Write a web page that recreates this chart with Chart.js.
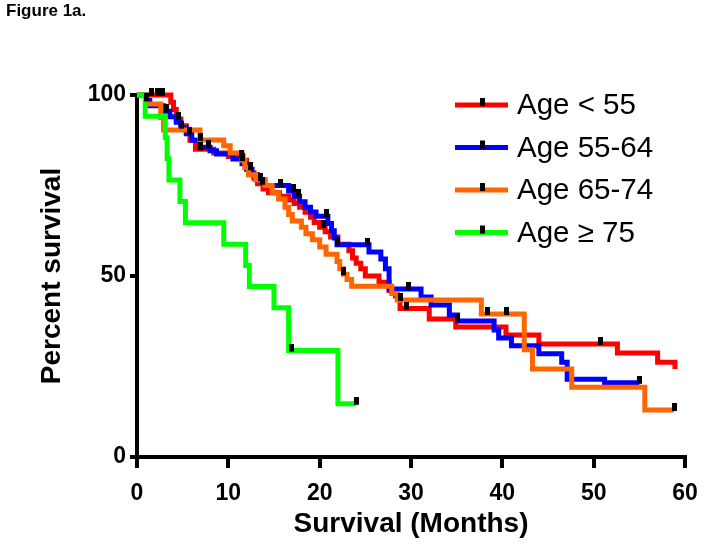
<!DOCTYPE html>
<html>
<head>
<meta charset="utf-8">
<script src="https://cdn.jsdelivr.net/npm/chart.js@4.4.1/dist/chart.umd.min.js"></script>
<style>
    html, body { margin: 0; padding: 0; background: #fff; }
    #wrap { position: relative; width: 704px; height: 550px; }
    #fig { position: absolute; left: 6px; top: 1px; font: bold 17px "Liberation Sans", Arial, sans-serif; color: #000; }
</style>
</head>
<body>
<div id="wrap">
    <canvas id="survivalChart" width="704" height="550"></canvas>
    <div id="fig">Figure 1a.</div>
</div>
<script>
// Kaplan-Meier steps: month of each drop and survival (%) after it
var groupNames = ['Age < 55', 'Age 55-64', 'Age 65-74', 'Age \u2265 75'];
var groupColors = ['#ff0000', '#0000ff', '#ff6600', '#00ff00'];

var redTime = [0, 3.7, 4.0, 4.3, 4.8, 5.4, 5.8, 6.4, 8.4, 10.0, 11.6, 12.0, 12.4, 12.8, 13.2, 13.8, 14.4, 15.6, 16.6, 17.2,
    17.8, 18.4, 19.0, 19.4, 20.0, 20.6, 21.2, 22.0, 23.2, 23.6, 24.0, 24.5, 25.0, 26.5, 27.6, 28.3, 28.8, 32.0, 34.9, 40.4,
    44.0, 52.6, 57.0, 58.9];
var redSurv = [100, 98, 96, 93.4, 91.5, 89.5, 87.5, 85, 84, 83, 82, 80, 78.5, 77, 75.5, 74, 73, 72, 71, 70,
    69, 67.6, 66.2, 64.8, 63.5, 62.2, 60.8, 58.8, 57, 55, 53.5, 52, 50, 48.3, 46, 44.5, 41, 38.1, 35.9, 33.7,
    31.2, 28.7, 26.2, 24.3];
var redCensor = [1.6, 2.2, 2.8, 4.5, 7.0, 11.4, 13.7, 20.4, 29.5, 50.7];

var blueTime = [0, 1.0, 1.4, 2.9, 3.6, 4.3, 4.8, 5.4, 6.0, 6.9, 8.0, 8.7, 10.5, 11.5, 12.0, 12.6, 13.2, 14.0, 16.6, 17.2,
    17.8, 18.4, 19.0, 19.6, 20.9, 21.3, 21.6, 21.9, 25.4, 26.7, 27.2, 27.6, 31.1, 32.2, 34.2, 35.1, 39.1, 39.6, 41.0, 44.0,
    46.5, 47.1, 51.2, 55.0];
var blueSurv = [100, 98.5, 97, 95.5, 94, 92.5, 91, 89.3, 87.5, 85.6, 84.6, 83.7, 82.3, 81, 79.5, 78, 76.5, 75, 73.5, 72,
    70.5, 69, 67.7, 66.5, 64.5, 62.5, 60.5, 58.6, 56.6, 54.7, 52, 46.4, 44.2, 42, 39.2, 37.6, 35.1, 32.9, 30.7, 28.5,
    26.2, 21.5, 20.5, 20.5];
var blueCensor = [1.0, 3.2, 4.9, 5.7, 7.8, 12.4, 13.5, 15.7, 17.1, 17.7, 20.8, 21.9, 25.2, 29.7, 35.1, 55.0];

var orangeTime = [0, 1.0, 2.6, 2.9, 6.9, 9.5, 10.2, 11.5, 11.8, 12.2, 13.0, 14.0, 14.8, 15.5, 16.2, 16.6, 17.0, 18.0, 18.5, 19.2,
    20.0, 20.7, 21.9, 22.2, 22.6, 23.0, 23.5, 27.9, 28.5, 37.7, 42.4, 43.3, 47.6, 55.6, 58.8];
var orangeSurv = [100, 97.5, 93.8, 90.3, 87.6, 86, 84, 82, 80, 78, 76.5, 75, 73, 71.3, 69, 67, 65.2, 63.5, 61.7, 60,
    58, 56, 54, 52, 50.5, 49, 47.2, 45.2, 43.4, 39.5, 29.6, 24.3, 19.3, 13.0, 13.0];
var orangeCensor = [6.9, 11.6, 22.6, 28.8, 38.4, 40.5, 58.8];

var greenTime = [0, 0.9, 3.1, 3.3, 3.5, 4.7, 5.3, 9.5, 11.9, 12.3, 15.0, 16.6, 22.0, 24.0];
var greenSurv = [100, 94.1, 88.2, 82.4, 76.5, 70.6, 64.7, 58.8, 52.9, 47.1, 41.2, 29.4, 14.7, 14.7];
var greenCensor = [16.9, 24.0];

var xTicks = [0, 10, 20, 30, 40, 50, 60];
var yTicks = [0, 50, 100];

var fontFamily = '"Liberation Sans", Arial, sans-serif';

function toPoints(times, surv) {
    return times.map(function (t, i) { return { x: t, y: surv[i] }; });
}

// survival value of a step curve at month t (for placing censor ticks on the line)
function survAt(times, surv, t) {
    var s = surv[0];
    for (var i = 0; i < times.length; i++) {
        if (times[i] <= t) s = surv[i];
    }
    return s;
}

function censorPoints(times, surv, cens) {
    return cens.map(function (t) { return { x: t, y: survAt(times, surv, t) }; });
}

// censor mark: a small black bar standing on top of the line
var tick = document.createElement('canvas');
tick.width = 5;
tick.height = 14;
var tctx = tick.getContext('2d');
tctx.fillStyle = '#000';
tctx.fillRect(0, 0, 5, 8);

var curves = [
    [redTime, redSurv, redCensor],
    [blueTime, blueSurv, blueCensor],
    [orangeTime, orangeSurv, orangeCensor],
    [greenTime, greenSurv, greenCensor]
];

var censorData = [];
curves.forEach(function (c) {
    censorData = censorData.concat(censorPoints(c[0], c[1], c[2]));
});

var datasets = [{
    label: 'Censored',
    data: censorData,
    showLine: false,
    pointStyle: tick,
    pointRadius: 4,
    order: 0,
    clip: false
}];
curves.forEach(function (c, i) {
    datasets.push({
        label: groupNames[i],
        data: toPoints(c[0], c[1]),
        showLine: true,
        stepped: true,
        borderColor: groupColors[i],
        borderWidth: 5,
        pointRadius: 0,
        fill: false,
        order: 4 - i,
        clip: false
    });
});

var legendPlugin = {
    id: 'kmLegend',
    afterDraw: function (chart) {
        var ctx = chart.ctx;
        ctx.save();
        ctx.font = '29.5px ' + fontFamily;
        ctx.textBaseline = 'middle';
        groupNames.forEach(function (name, i) {
            var y = 105 + i * 42.5;
            ctx.strokeStyle = groupColors[i];
            ctx.lineWidth = 5;
            ctx.beginPath();
            ctx.moveTo(455, y);
            ctx.lineTo(508, y);
            ctx.stroke();
            ctx.fillStyle = '#000';
            ctx.fillRect(480, y - 7, 5, 8);
            ctx.fillText(name, 517, y + 1);
        });
        ctx.restore();
    }
};

var ctx = document.getElementById('survivalChart').getContext('2d');
new Chart(ctx, {
    type: 'scatter',
    data: { datasets: datasets },
    plugins: [legendPlugin],
    options: {
        responsive: false,
        animation: false,
        devicePixelRatio: 1,
        layout: { padding: { left: 0, top: 95, right: 19, bottom: 0 } },
        plugins: {
            legend: { display: false },
            tooltip: { enabled: false }
        },
        scales: {
            x: {
                type: 'linear',
                min: 0,
                max: 60,
                afterBuildTicks: function (scale) {
                    scale.ticks = xTicks.map(function (v) { return { value: v }; });
                },
                afterFit: function (scale) {
                    scale.height = 93;
                    scale.paddingLeft = 0;
                    scale.paddingRight = 0;
                },
                border: { display: true, color: '#000', width: 4 },
                grid: { drawOnChartArea: false, drawTicks: true, tickLength: 11, lineWidth: 4, color: '#000' },
                ticks: {
                    padding: 12,
                    color: '#000',
                    font: { family: fontFamily, size: 23, weight: 'bold' }
                },
                title: {
                    display: true,
                    text: 'Survival (Months)',
                    color: '#000',
                    padding: { top: 0, bottom: 9 },
                    font: { family: fontFamily, size: 28, weight: 'bold' }
                }
            },
            y: {
                type: 'linear',
                min: 0,
                max: 100,
                afterBuildTicks: function (scale) {
                    scale.ticks = yTicks.map(function (v) { return { value: v }; });
                },
                afterFit: function (scale) { scale.width = 137; },
                border: { display: true, color: '#000', width: 4 },
                grid: { drawOnChartArea: false, drawTicks: true, tickLength: 7, lineWidth: 4, color: '#000' },
                ticks: {
                    padding: 4,
                    color: '#000',
                    font: { family: fontFamily, size: 23, weight: 'bold' }
                },
                title: {
                    display: true,
                    text: 'Percent survival',
                    color: '#000',
                    padding: { top: 35, bottom: 0 },
                    font: { family: fontFamily, size: 28, weight: 'bold' }
                }
            }
        }
    }
});
</script>
</body>
</html>
